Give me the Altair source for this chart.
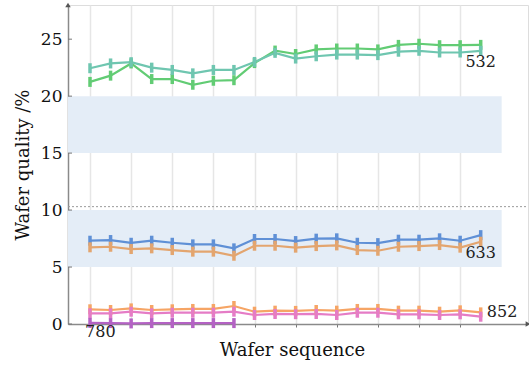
import altair as alt
import pandas as pd

# Wafer index and measured quality per detector channel
wafers = list(range(1, 21))

q532_green = [21.25, 21.8, 22.87, 21.5, 21.5, 21.0, 21.35, 21.4, 22.9, 24.0,
              23.7, 24.1, 24.18, 24.18, 24.1, 24.5, 24.6, 24.47, 24.47, 24.5]
q532_teal = [22.45, 22.87, 22.98, 22.5, 22.3, 22.0, 22.3, 22.3, 23.0, 23.8,
             23.3, 23.5, 23.65, 23.65, 23.6, 23.9, 23.98, 23.83, 23.83, 23.98]
q633_blue = [7.31, 7.37, 7.13, 7.31, 7.13, 6.99, 6.99, 6.64, 7.46, 7.46,
             7.28, 7.49, 7.52, 7.13, 7.1, 7.4, 7.4, 7.52, 7.31, 7.8]
q633_orange = [6.73, 6.78, 6.58, 6.64, 6.49, 6.35, 6.35, 5.99, 6.87, 6.87,
               6.7, 6.84, 6.9, 6.49, 6.43, 6.78, 6.84, 6.93, 6.7, 7.22]
q852_orange = [1.29, 1.23, 1.37, 1.23, 1.29, 1.32, 1.32, 1.58, 1.08, 1.17,
               1.15, 1.23, 1.17, 1.32, 1.32, 1.17, 1.17, 1.08, 1.2, 1.02]
q852_pink = [0.94, 0.94, 1.08, 0.94, 0.99, 0.99, 0.99, 1.08, 0.79, 0.88,
             0.86, 0.88, 0.79, 0.99, 0.99, 0.85, 0.85, 0.79, 0.85, 0.64]
q780 = [0.1, 0.08, 0.05, 0.08, 0.08, 0.08, 0.08, 0.08]

series_names = ["532a", "532b", "633a", "633b", "852a", "852b", "780"]
series_values = [q532_green, q532_teal, q633_blue, q633_orange,
                 q852_orange, q852_pink, q780]
line_colors = ["#62cc74", "#6fc6b0", "#5f90d6", "#e3a56f", "#f6a565", "#e57cc6", "#b462c4"]
marker_colors = ["#2fb34c", "#27a088", "#1f6fc6", "#ef8a26", "#f2832a", "#d645a8", "#9c3fb2"]

# Tolerance bands and threshold
bands_lo = [5, 15]
bands_hi = [10, 20]
threshold = 10.3
y_ticks = [0, 5, 10, 15, 20, 25]

# Curve labels: text, wafer position, quality position, alignment
label_text = ["532", "633", "852", "780"]
label_x = [20.0, 20.0, 20.3, 1.5]
label_y = [23.0, 6.25, 1.05, -0.67]
label_align = ["center", "center", "left", "center"]

X_MIN, X_MAX = -0.07, 22.3
Y_MIN, Y_MAX = 0, 28
SERIF = "DejaVu Serif"

rows = []
for name, vals in zip(series_names, series_values):
    for w, v in zip(wafers, vals):
        rows.append({"series": name, "wafer": w, "quality": v})
df = pd.DataFrame(rows)

xs = alt.Scale(domain=[X_MIN, X_MAX], nice=False, zero=False)
ys = alt.Scale(domain=[Y_MIN, Y_MAX], nice=False, zero=False)

line_scale = alt.Scale(domain=series_names, range=line_colors)
marker_scale = alt.Scale(domain=series_names, range=marker_colors)

bands_df = pd.DataFrame({"lo": bands_lo, "hi": bands_hi,
                         "x0": [X_MIN] * 2, "x1": [21.02] * 2})
bands = alt.Chart(bands_df).mark_rect(color="#e4edf7").encode(
    x=alt.X("x0:Q", scale=xs,
            axis=alt.Axis(values=wafers, labels=False, tickSize=3, tickColor="#777",
                          domainColor="#8a8a8a", domainWidth=1.5,
                          grid=True, gridColor="#e6e6e6", gridWidth=1.5,
                          title="Wafer sequence", titleFont=SERIF, titleFontSize=18,
                          titleFontWeight="normal", titleColor="#111", titlePadding=14,
                          titleX=224)),
    x2="x1:Q",
    y=alt.Y("lo:Q", scale=ys,
            axis=alt.Axis(values=y_ticks, ticks=False, labelFont=SERIF, labelFontSize=17,
                          labelColor="#111", labelPadding=6,
                          domainColor="#8a8a8a", domainWidth=1.5, grid=False,
                          title="Wafer quality /%", titleFont=SERIF, titleFontSize=18,
                          titleFontWeight="normal", titleColor="#111", titlePadding=8)),
    y2="hi:Q",
)

# Small inward ticks on the quality axis
yticks_df = pd.DataFrame({"v": y_ticks})
yticks = alt.Chart(yticks_df).mark_rule(color="#777", strokeWidth=1).encode(
    x=alt.value(0), x2=alt.value(4), y=alt.Y("v:Q", scale=ys))

thr_df = pd.DataFrame({"v": [threshold], "x0": [X_MIN], "x1": [X_MAX]})
thr = alt.Chart(thr_df).mark_rule(color="#9a9a9a", strokeDash=[2, 2], strokeWidth=1).encode(
    y=alt.Y("v:Q", scale=ys), x=alt.X("x0:Q", scale=xs), x2="x1:Q")

lines = alt.Chart(df).mark_line(strokeWidth=2.2).encode(
    x=alt.X("wafer:Q", scale=xs),
    y=alt.Y("quality:Q", scale=ys),
    color=alt.Color("series:N", scale=line_scale, legend=None),
    detail="series:N",
)

markers = alt.Chart(df).mark_tick(orient="vertical", size=10, thickness=3.5, opacity=1).encode(
    x=alt.X("wafer:Q", scale=xs),
    y=alt.Y("quality:Q", scale=ys),
    color=alt.Color("series:N", scale=marker_scale, legend=None),
)

lab_df = pd.DataFrame({"t": label_text, "x": label_x, "y": label_y, "a": label_align})
labels_c = alt.Chart(lab_df[lab_df.a == "center"]).mark_text(
    font=SERIF, fontSize=16, color="#222", align="center", baseline="middle").encode(
    x=alt.X("x:Q", scale=xs), y=alt.Y("y:Q", scale=ys), text="t:N")
labels_l = alt.Chart(lab_df[lab_df.a == "left"]).mark_text(
    font=SERIF, fontSize=16, color="#222", align="left", baseline="middle").encode(
    x=alt.X("x:Q", scale=xs), y=alt.Y("y:Q", scale=ys), text="t:N")

# Arrow heads at the ends of both axes
arrows_df = pd.DataFrame({"x": [X_MIN, X_MAX], "y": [Y_MAX, Y_MIN],
                          "s": ["triangle-up", "triangle-right"]})
arrows = alt.Chart(arrows_df).mark_point(filled=True, size=30, color="#555", opacity=1).encode(
    x=alt.X("x:Q", scale=xs), y=alt.Y("y:Q", scale=ys),
    shape=alt.Shape("s:N", scale=None, legend=None))

chart = alt.layer(bands, thr, yticks, lines, markers, labels_c, labels_l, arrows).properties(
    width=460, height=319,
    autosize=alt.AutoSizeParams(type="none"),
    padding={"left": 68, "top": 5, "right": 1, "bottom": 42},
).configure_view(stroke=None).configure(background="white")

chart.save("out.html", embed_options={"renderer": "svg", "actions": False})
